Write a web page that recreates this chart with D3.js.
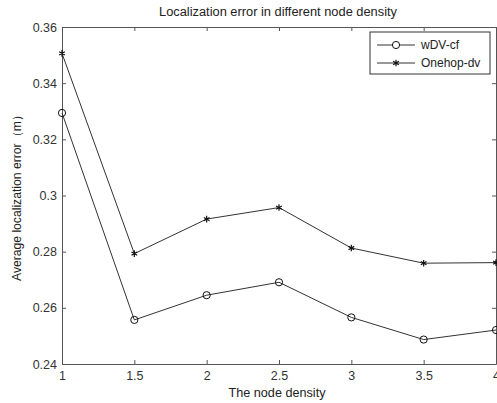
<!DOCTYPE html>
<meta charset="utf-8">
<head>
    <title>Localization error</title>
</head>
<style>
  body { margin: 0; background: #fff; }
  text { font-family: "Liberation Sans", Arial, sans-serif; fill: #222; }
</style>
<div id="graph_div"></div>
<script src="https://d3js.org/d3.v7.min.js"></script>
<script>

    var density = [1, 1.5, 2, 2.5, 3, 3.5, 4];
    var wdvValues = [0.3294, 0.2557, 0.2645, 0.2691, 0.2566, 0.2487, 0.2521];
    var onehopValues = [0.3506, 0.2793, 0.2916, 0.2957, 0.2813, 0.2759, 0.2761];
    var yTicks = [0.24, 0.26, 0.28, 0.3, 0.32, 0.34, 0.36];
    var seriesNames = ["wDV-cf", "Onehop-dv"];

    var margin = {top: 27, right: 1, bottom: 39, left: 62},
        width = 497 - margin.left - margin.right,
        height = 403 - margin.top - margin.bottom;

    var svg = d3.select("#graph_div")
      .append("svg")
        .attr("width", 497)
        .attr("height", 403)
      .append("g")
        .attr("transform", "translate(" + margin.left + "," + margin.top + ")");

    var x = d3.scaleLinear().domain([1, 4]).range([0, width]);
    var y = d3.scaleLinear().domain([0.24, 0.36]).range([height, 0]);

    var axisColor = "#555";

    // axes with inward ticks, mirrored on top/right like matlab
    var xAxis = svg.append("g")
        .attr("transform", "translate(0," + height + ")")
        .call(d3.axisBottom(x).tickValues(density).tickSizeInner(-4).tickSizeOuter(0)
            .tickFormat(function(d) { return String(d); }));
    xAxis.selectAll("text").attr("dy", "1.05em").style("font-size", "12.5px");

    var yAxis = svg.append("g")
        .call(d3.axisLeft(y).tickValues(yTicks).tickSizeInner(-4).tickSizeOuter(0)
            .tickFormat(function(d) { return String(+d.toFixed(2)); }));
    yAxis.selectAll("text").attr("x", -5).style("font-size", "12.5px");

    svg.append("g")
        .call(d3.axisTop(x).tickValues(density).tickSizeInner(-4).tickSizeOuter(0).tickFormat(""));
    svg.append("g")
        .attr("transform", "translate(" + width + ",0)")
        .call(d3.axisRight(y).tickValues(yTicks).tickSizeInner(-4).tickSizeOuter(0).tickFormat(""));

    svg.selectAll(".domain, .tick line").attr("stroke", axisColor);
    svg.selectAll(".tick text").style("fill", "#333");

    var line = d3.line()
        .x(function(d, i) { return x(density[i]); })
        .y(function(d) { return y(d); });

    var lineColor = "#333";

    svg.append("path")
        .datum(wdvValues)
        .attr("fill", "none")
        .attr("stroke", lineColor)
        .attr("stroke-width", 1)
        .attr("d", line);

    svg.append("path")
        .datum(onehopValues)
        .attr("fill", "none")
        .attr("stroke", lineColor)
        .attr("stroke-width", 1)
        .attr("d", line);

    svg.selectAll(".circ")
        .data(wdvValues)
        .enter().append("circle")
        .attr("cx", function(d, i) { return x(density[i]); })
        .attr("cy", function(d) { return y(d); })
        .attr("r", 3.6)
        .attr("fill", "none")
        .attr("stroke", "#111")
        .attr("stroke-width", 1);

    var star = d3.symbol().type(d3.symbolAsterisk).size(30);

    svg.selectAll(".star")
        .data(onehopValues)
        .enter().append("path")
        .attr("transform", function(d, i) { return "translate(" + x(density[i]) + "," + y(d) + ")"; })
        .attr("d", star)
        .attr("fill", "none")
        .attr("stroke", "#111")
        .attr("stroke-width", 1.2);

    // title & labels
    svg.append("text")
        .attr("x", width / 2 - 1)
        .attr("y", -11)
        .attr("text-anchor", "middle")
        .attr("textLength", 238)
        .attr("lengthAdjust", "spacingAndGlyphs")
        .style("font-size", "12.5px")
        .text("Localization error in different node density");

    svg.append("text")
        .attr("x", width / 2 - 2)
        .attr("y", height + 33)
        .attr("text-anchor", "middle")
        .attr("textLength", 97)
        .attr("lengthAdjust", "spacingAndGlyphs")
        .style("font-size", "12px")
        .text("The node density");

    svg.append("text")
        .attr("transform", "translate(-41," + (195 - margin.top) + ") rotate(-90)")
        .attr("text-anchor", "middle")
        .attr("textLength", 172)
        .attr("lengthAdjust", "spacingAndGlyphs")
        .style("font-size", "12px")
        .text("Average localization error（m）");

    // legend
    var legend = svg.append("g").attr("transform", "translate(" + (370 - margin.left) + "," + (32 - margin.top) + ")");
    legend.append("rect")
        .attr("width", 120).attr("height", 42)
        .attr("fill", "#fff").attr("stroke", "#333").attr("stroke-width", 1);

    seriesNames.forEach(function(name, i) {
        var ly = 13 + i * 18;
        legend.append("line")
            .attr("x1", 7).attr("x2", 45).attr("y1", ly).attr("y2", ly)
            .attr("stroke", lineColor);
        if (i === 0) {
            legend.append("circle").attr("cx", 26).attr("cy", ly).attr("r", 3.6)
                .attr("fill", "#fff").attr("stroke", "#111");
        } else {
            legend.append("path").attr("transform", "translate(26," + ly + ")")
                .attr("d", star).attr("fill", "none").attr("stroke", "#111").attr("stroke-width", 1.2);
        }
        legend.append("text")
            .attr("x", 51).attr("y", ly + 4)
            .style("font-size", "12px")
            .text(name);
    });
</script>
